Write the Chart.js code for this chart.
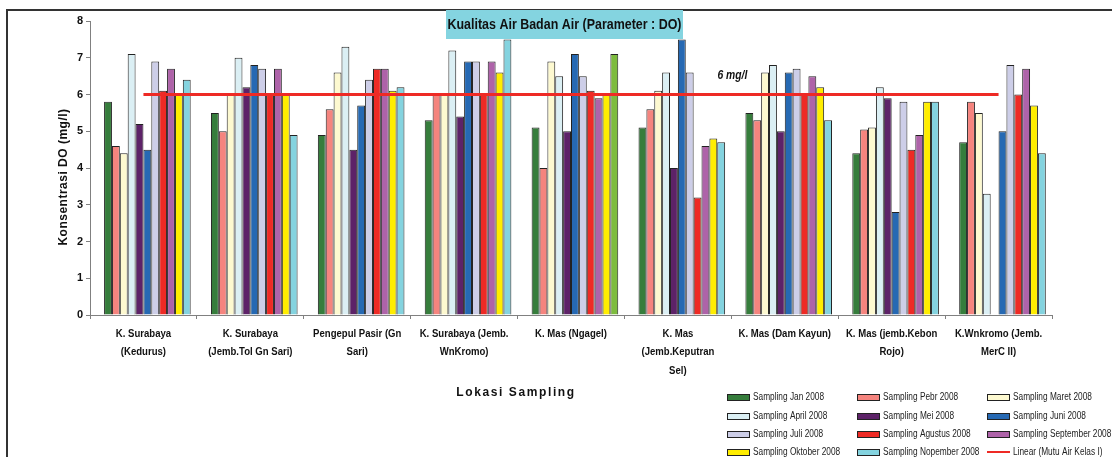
<!DOCTYPE html>
<html>
<head>
<meta charset="utf-8">
<script src="https://cdn.jsdelivr.net/npm/chart.js@4.4.1/dist/chart.umd.min.js"></script>
<style>
  html, body { margin: 0; padding: 0; background: #ffffff; }
  #wrap { position: relative; width: 1112px; height: 457px; }
  canvas { display: block; }
</style>
</head>
<body>
<div id="wrap"><canvas id="chart" width="1112" height="457"></canvas></div>
<script>
// Sampling locations (x-axis categories, multi-line labels)
const locations = [
  ['K. Surabaya', '(Kedurus)'],
  ['K. Surabaya', '(Jemb.Tol Gn Sari)'],
  ['Pengepul Pasir (Gn', 'Sari)'],
  ['K. Surabaya (Jemb.', 'WnKromo)'],
  ['K. Mas (Ngagel)'],
  ['K. Mas', '(Jemb.Keputran', 'Sel)'],
  ['K. Mas (Dam Kayun)'],
  ['K. Mas (jemb.Kebon', 'Rojo)'],
  ['K.Wnkromo (Jemb.', 'MerC II)']
];

// Dissolved oxygen per sampling month (mg/l)
const samplingJan = [5.8, 5.5, 4.9, 5.3, 5.1, 5.1, 5.5, 4.4, 4.7];
const samplingPebr = [4.6, 5.0, 5.6, 6.0, 4.0, 5.6, 5.3, 5.05, 5.8];
const samplingMaret = [4.4, 6.0, 6.6, 6.0, 6.9, 6.1, 6.6, 5.1, 5.5];
const samplingApril = [7.1, 7.0, 7.3, 7.2, 6.5, 6.6, 6.8, 6.2, 3.3];
const samplingMei = [5.2, 6.2, 4.5, 5.4, 5.0, 4.0, 5.0, 5.9, null];
const samplingJuni = [4.5, 6.8, 5.7, 6.9, 7.1, 7.5, 6.6, 2.8, 5.0];
const samplingJuli = [6.9, 6.7, 6.4, 6.9, 6.5, 6.6, 6.7, 5.8, 6.8];
const samplingAgustus = [6.1, 6.0, 6.7, 6.0, 6.1, 3.2, 6.0, 4.5, 6.0];
const samplingSeptember = [6.7, 6.7, 6.7, 6.9, 5.9, 4.6, 6.5, 4.9, 6.7];
const samplingOktober = [6.0, 6.0, 6.1, 6.6, 6.0, 4.8, 6.2, 5.8, 5.7];
const samplingNopember = [6.4, 4.9, 6.2, 7.5, 7.1, 4.7, 5.3, 5.8, 4.4];

// Class I water quality standard for DO (mg/l)
const mutuAirKelasI = [6, 6, 6, 6, 6, 6, 6, 6, 6];

const yTicks = [0, 1, 2, 3, 4, 5, 6, 7, 8];

const FONT = '"Liberation Sans", Arial, sans-serif';
const EDGE = '#222222';

const seriesDefs = [
  { label: 'Sampling Jan 2008', data: samplingJan, color: '#367d3c' },
  { label: 'Sampling Pebr 2008', data: samplingPebr, color: '#f5847e' },
  { label: 'Sampling Maret 2008', data: samplingMaret, color: '#fdf9d0' },
  { label: 'Sampling April 2008', data: samplingApril, color: '#dbeff4' },
  { label: 'Sampling Mei 2008', data: samplingMei, color: '#5d2268' },
  { label: 'Sampling Juni 2008', data: samplingJuni, color: '#2669b3' },
  { label: 'Sampling Juli 2008', data: samplingJuli, color: '#cdcee8' },
  { label: 'Sampling Agustus 2008', data: samplingAgustus, color: '#ee2a25' },
  { label: 'Sampling September 2008', data: samplingSeptember, color: '#ae63a9' },
  { label: 'Sampling Oktober 2008', data: samplingOktober, color: '#ffed00' },
  { label: 'Sampling Nopember 2008', data: samplingNopember, color: '#84d3df' }
];

// The Ngagel station's November bar is drawn in green
const nopColors = locations.map((_, i) => i === 4 ? '#7dbc3e' : '#84d3df');

const barCommon = {
  type: 'bar',
  borderColor: EDGE,
  borderWidth: 1,
  borderSkipped: 'bottom',
  categoryPercentage: 0.884,
  barPercentage: 1.0,
  order: 1
};

// empty leading slot in each group (keeps the bar cluster offset as in the layout)
const datasets = [Object.assign({}, barCommon, { label: '', data: [], legendSkip: true })];

seriesDefs.forEach((s, i) => {
  datasets.push(Object.assign({}, barCommon, {
    label: s.label,
    data: s.data,
    backgroundColor: i === 10 ? nopColors : s.color,
    legendColor: s.color
  }));
});

datasets.push({
  type: 'line',
  label: 'Linear (Mutu Air Kelas I)',
  data: mutuAirKelasI,
  borderColor: '#ee2a25',
  borderWidth: 3,
  pointRadius: 0,
  fill: false,
  order: 0
});

// draws text horizontally condensed (narrow face look)
function narrowText(ctx, text, x, y, sx, align) {
  ctx.save();
  ctx.translate(x, y);
  ctx.scale(sx, 1);
  ctx.textAlign = align || 'center';
  ctx.fillText(text, 0, 0);
  ctx.restore();
}

const decorations = {
  id: 'decorations',
  beforeDraw(chart) {
    const ctx = chart.ctx;
    ctx.save();
    ctx.fillStyle = '#ffffff';
    ctx.fillRect(0, 0, chart.width, chart.height);
    // outer frame (top and left edges)
    ctx.strokeStyle = '#333333';
    ctx.lineWidth = 2;
    ctx.beginPath();
    ctx.moveTo(7, chart.height);
    ctx.lineTo(7, 10);
    ctx.lineTo(chart.width, 10);
    ctx.stroke();
    ctx.restore();
  },
  afterDraw(chart) {
    const ctx = chart.ctx;
    const xs = chart.scales.x;
    const ys = chart.scales.y;
    ctx.save();
    ctx.textBaseline = 'middle';
    ctx.fillStyle = '#111111';

    // category labels under the x axis
    ctx.font = 'bold 11px ' + FONT;
    chart.data.labels.forEach((lines, i) => {
      const px = xs.getPixelForValue(i);
      lines.forEach((line, k) => {
        narrowText(ctx, line, px, xs.top + 18.5 + k * 18.5, 0.87);
      });
    });

    // title box
    ctx.fillStyle = '#84d4e0';
    ctx.fillRect(446, 10, 237, 29);
    ctx.fillStyle = '#111111';
    ctx.font = 'bold 14px ' + FONT;
    narrowText(ctx, 'Kualitas Air Badan Air (Parameter : DO)', 564.5, 25, 0.89);

    // standard line label
    ctx.font = 'italic bold 12px ' + FONT;
    const lx = (xs.getPixelForValue(5) + xs.getPixelForValue(6)) / 2;
    narrowText(ctx, '6 mg/l', lx + 1, ys.getPixelForValue(6.5), 0.86);

    // y axis title
    ctx.save();
    ctx.translate(64, 177);
    ctx.rotate(-Math.PI / 2);
    ctx.font = 'bold 12px ' + FONT;
    ctx.letterSpacing = '0.5px';
    ctx.textAlign = 'center';
    ctx.fillText('Konsentrasi DO (mg/l)', 0, 0);
    ctx.restore();

    // x axis title
    ctx.save();
    ctx.font = 'bold 12px ' + FONT;
    ctx.letterSpacing = '1.6px';
    ctx.textAlign = 'center';
    ctx.fillText('Lokasi Sampling', 516, 393);
    ctx.restore();

    // legend: 3 columns x 4 rows
    const colX = [727, 857, 987];
    const rowY = [397, 416, 434, 452];
    ctx.font = '10px ' + FONT;
    const items = chart.data.datasets.filter(ds => !ds.legendSkip);
    items.forEach((ds, i) => {
      const cx = colX[i % 3];
      const cy = rowY[Math.floor(i / 3)];
      if (ds.type === 'line') {
        ctx.strokeStyle = ds.borderColor;
        ctx.lineWidth = 2;
        ctx.beginPath();
        ctx.moveTo(cx, cy);
        ctx.lineTo(cx + 23, cy);
        ctx.stroke();
      } else {
        ctx.fillStyle = EDGE;
        ctx.fillRect(cx, cy - 3, 23, 7);
        ctx.fillStyle = ds.legendColor;
        ctx.fillRect(cx + 1, cy - 2, 21, 5);
      }
      ctx.fillStyle = '#222222';
      narrowText(ctx, ds.label, cx + 26, cy + 0.5, 0.83, 'left');
    });

    ctx.restore();
  }
};

new Chart(document.getElementById('chart'), {
  data: { labels: locations, datasets: datasets },
  options: {
    responsive: false,
    animation: false,
    devicePixelRatio: 1,
    layout: { padding: { left: 0, right: 60, top: 21, bottom: 0 } },
    plugins: {
      legend: { display: false },
      tooltip: { enabled: false },
      title: { display: false }
    },
    scales: {
      x: {
        offset: true,
        grid: { display: true, drawOnChartArea: false, offset: true, tickLength: 4, color: '#808080' },
        border: { color: '#808080', width: 1 },
        ticks: { display: false },
        afterFit(scale) { scale.height = 142; }
      },
      y: {
        min: 0,
        max: 8,
        afterBuildTicks(scale) { scale.ticks = yTicks.map(v => ({ value: v })); },
        grid: { display: true, drawOnChartArea: false, tickLength: 4, color: '#808080' },
        border: { color: '#808080', width: 1 },
        ticks: {
          padding: 3,
          color: '#111111',
          font: { family: FONT, size: 11, weight: 'bold' }
        },
        afterFit(scale) { scale.width = 90; }
      }
    }
  },
  plugins: [decorations]
});
</script>
</body>
</html>
